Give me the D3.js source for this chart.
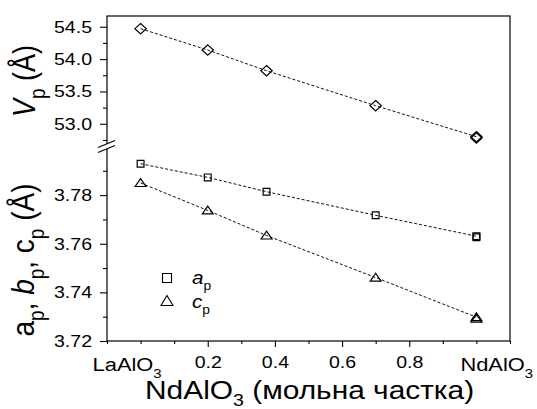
<!DOCTYPE html>
<html>
<head>
<meta charset="utf-8">
<script src="https://cdn.jsdelivr.net/npm/d3@7"></script>
<style>
  body { margin: 0; background: #fff; }
  text { font-family: "Liberation Sans", Arial, sans-serif; fill: #000; }
</style>
</head>
<body>
<script>
var width = 537;
var height = 409;

// data
var xVals = [0, 0.2, 0.375, 0.7, 1.0];
var volume = [54.47, 54.14, 53.82, 53.28, 52.80];
var aP = [3.7929, 3.7873, 3.7814, 3.7717, 3.7631];
var cP = [3.7850, 3.7737, 3.7634, 3.7461, 3.7298];
// second overlapping points at NdAlO3
var xEnd = [1.0];
var volumeEnd = [52.78];
var aEnd = [3.7627];
var cEnd = [3.7292];

var vTicks = [53.0, 53.5, 54.0, 54.5];
var vMinor = [52.75, 53.25, 53.75, 54.25];
var lTicks = [3.72, 3.74, 3.76, 3.78];
var lMinor = [3.73, 3.75, 3.77, 3.79];
var xTicks = [0.2, 0.4, 0.6, 0.8];
var xMinor = [-0.1, 0, 0.1, 0.3, 0.5, 0.7, 0.9, 1.0, 1.1];

var sx = 1.15; // the picture is a bit stretched horizontally

var frame = { left: 107, right: 510, top: 16, bottom: 341, brk: 146.5 };

var svg = d3.select("body").append("svg")
    .attr("width", width)
    .attr("height", height);

var x = d3.scaleLinear().domain([-0.1, 1.1]).range([frame.left, frame.right]);
var yV = d3.scaleLinear().domain([52.649, 54.666]).range([frame.brk, frame.top]);
var yL = d3.scaleLinear().domain([3.72, 3.80]).range([frame.bottom, frame.brk]);

// frame
svg.append("rect")
    .attr("x", frame.left).attr("y", frame.top)
    .attr("width", frame.right - frame.left)
    .attr("height", frame.bottom - frame.top)
    .attr("fill", "none").attr("stroke", "#000").attr("stroke-width", 1.2);

function styleAxis(g) {
    g.select(".domain").remove();
    g.selectAll("line").attr("stroke", "#000").attr("stroke-width", 1.1);
    g.selectAll("text").attr("font-size", 17).attr("font-family", "Liberation Sans, Arial, sans-serif");
}

function leftAxis(scale, major, minor, fmt) {
    svg.append("g")
        .attr("transform", "translate(" + frame.left + ",0)")
        .call(d3.axisLeft(scale).tickValues(minor).tickSize(4).tickFormat(""))
        .call(styleAxis);
    var g = svg.append("g")
        .attr("transform", "translate(" + frame.left + ",0)")
        .call(d3.axisLeft(scale).tickValues(major).tickSize(7).tickPadding(8).tickFormat(d3.format(fmt)))
        .call(styleAxis);
    g.selectAll("text")
        .attr("x", -15 / sx)
        .attr("transform", "scale(" + sx + ",1)");
}

leftAxis(yV, vTicks, vMinor, ".1f");
leftAxis(yL, lTicks, lMinor, ".2f");

// bottom axis
svg.append("g")
    .attr("transform", "translate(0," + frame.bottom + ")")
    .call(d3.axisBottom(x).tickValues(xMinor).tickSize(3).tickFormat(""))
    .call(styleAxis);
var gx = svg.append("g")
    .attr("transform", "translate(0," + frame.bottom + ")")
    .call(d3.axisBottom(x).tickValues(xTicks).tickSize(6).tickPadding(9).tickFormat(d3.format(".1f")))
    .call(styleAxis);
gx.selectAll("text").attr("x", 0).attr("transform", "scale(" + sx + ",1)");

// end labels
function endLabel(xPos, name) {
    var t = svg.append("text")
        .attr("transform", "translate(" + xPos + ",371) scale(" + sx + ",1)")
        .attr("font-size", 19);
    t.append("tspan").text(name);
    t.append("tspan").attr("font-size", 13).attr("dy", 7).text("3");
}
endLabel(x(0) - 48, "LaAlO");
endLabel(x(1.0) - 16, "NdAlO");

// axis break marks
var bg = svg.append("g").attr("transform", "translate(" + frame.left + "," + frame.brk + ")");
bg.append("rect").attr("x", -2).attr("y", -2.5).attr("width", 4).attr("height", 5).attr("fill", "#fff");
[-2.6, 2.6].forEach(function (o) {
    bg.append("line")
        .attr("x1", -9).attr("y1", o + 3.5)
        .attr("x2", 8).attr("y2", o - 3.5)
        .attr("stroke", "#000").attr("stroke-width", 1.1);
});

// titles
var xt = svg.append("text")
    .attr("transform", "translate(145,399) scale(" + sx + ",1)")
    .attr("font-size", 26);
xt.append("tspan").text("NdAlO");
xt.append("tspan").attr("font-size", 17).attr("dy", 7).text("3");
xt.append("tspan").attr("dy", -7).text(" (мольна частка)");

function yTitle(cx, cy, size, parts) {
    var t = svg.append("text")
        .attr("transform", "translate(" + cx + "," + cy + ") scale(" + sx + ",1) rotate(-90)")
        .attr("text-anchor", "middle")
        .attr("font-size", size);
    var shift = 0;
    parts.forEach(function (p) {
        var s = t.append("tspan").text(p[0]);
        var want = p[1] ? 9 : 0;
        if (want !== shift) s.attr("dy", want - shift);
        shift = want;
        if (p[1]) s.attr("font-size", 19);
        if (p[2]) s.attr("font-style", "italic");
    });
}
yTitle(35, 81, 27, [["V", 0, 1], ["p", 1], [" (Å)", 0]]);
yTitle(34, 260, 28, [["a", 0], ["p", 1], [", ", 0], ["b", 0, 1], ["p", 1], [", ", 0], ["c", 0], ["p", 1], [" (Å)", 0]]);

// markers
function diamond(w, h) {
    return "M0," + (-h) + "L" + w + ",0L0," + h + "L" + (-w) + ",0Z";
}
function square(s) {
    return "M" + (-s) + "," + (-s) + "h" + (2 * s) + "v" + (2 * s) + "h" + (-2 * s) + "Z";
}
function triangle(w, h) {
    return "M0," + (-h * 0.55) + "L" + w + "," + (h * 0.45) + "L" + (-w) + "," + (h * 0.45) + "Z";
}

function series(yScale, vals, shape) {
    var line = d3.line()
        .x(function (d, i) { return x(xVals[i]); })
        .y(function (d) { return yScale(d); });
    svg.append("path")
        .datum(vals)
        .attr("d", line)
        .attr("fill", "none")
        .attr("stroke", "#111")
        .attr("stroke-width", 1)
        .attr("stroke-dasharray", "3,2");
    svg.selectAll(null)
        .data(vals)
        .enter()
        .append("path")
        .attr("transform", function (d, i) { return "translate(" + x(xVals[i]) + "," + yScale(d) + ")"; })
        .attr("d", shape)
        .attr("fill", "none")
        .attr("stroke", "#000")
        .attr("stroke-width", 1.2);
}

function extra(yScale, vals, shape) {
    svg.selectAll(null)
        .data(vals)
        .enter()
        .append("path")
        .attr("transform", function (d, i) { return "translate(" + x(xEnd[i]) + "," + yScale(d) + ")"; })
        .attr("d", shape)
        .attr("fill", "none")
        .attr("stroke", "#000")
        .attr("stroke-width", 1.2);
}

series(yV, volume, diamond(5.7, 5.2));
series(yL, aP, square(3.4));
series(yL, cP, triangle(5.4, 7.8));
extra(yV, volumeEnd, diamond(5.7, 5.2));
extra(yL, aEnd, square(3.4));
extra(yL, cEnd, triangle(5.4, 7.8));

// legend
var leg = svg.append("g");
leg.append("path").attr("transform", "translate(167,278)").attr("d", square(4.5))
    .attr("fill", "none").attr("stroke", "#000").attr("stroke-width", 1.1);
leg.append("path").attr("transform", "translate(167,301)").attr("d", triangle(6, 10))
    .attr("fill", "none").attr("stroke", "#000").attr("stroke-width", 1.1);
[["a", 284], ["c", 308]].forEach(function (l) {
    var t = leg.append("text")
        .attr("transform", "translate(192," + l[1] + ") scale(" + sx + ",1)")
        .attr("font-size", 18);
    t.append("tspan").attr("font-style", "italic").text(l[0]);
    t.append("tspan").attr("font-size", 12).attr("dy", 6).text("p");
});
</script>
</body>
</html>
